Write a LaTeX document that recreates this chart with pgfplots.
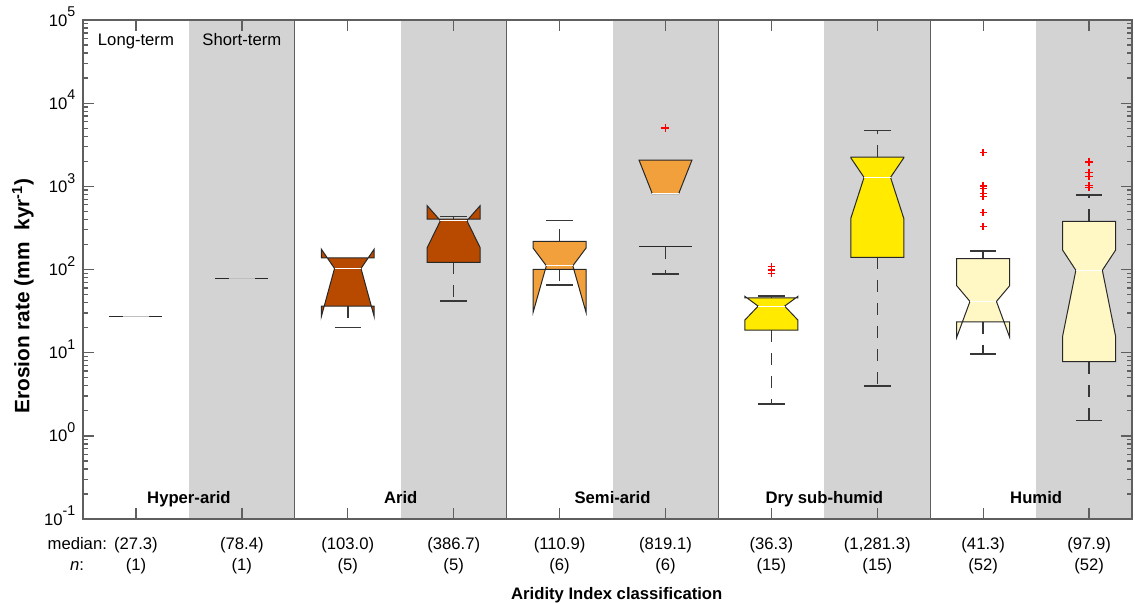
\documentclass[border=0pt]{standalone}
\usepackage{fontspec}
\setmainfont{Liberation Sans}
\usepackage{pgfplots}
\pgfplotsset{compat=1.18}
\definecolor{bggray}{RGB}{211,211,211}
\definecolor{arid}{RGB}{184,74,0}
\definecolor{semi}{RGB}{242,160,60}
\definecolor{dry}{RGB}{255,234,0}
\definecolor{humid}{RGB}{255,247,196}
\definecolor{axgray}{RGB}{95,95,95}
\definecolor{boxedge}{RGB}{40,40,40}
\definecolor{whisk}{RGB}{55,55,55}
\definecolor{outred}{RGB}{255,0,0}
\newcommand{\tl}[1]{10\raisebox{5.6pt}{\fontsize{8.5}{8.5}\selectfont #1}}
\pgfplotsset{
  bx/.style={draw=boxedge, line width=0.6pt},
  wh/.style={whisk, line width=0.9pt, dash pattern=on 7.2pt off 6.6pt},
  cap/.style={whisk, line width=0.9pt},
  med/.style={white, line width=0.7pt},
  outl/.style={outred, only marks, mark=+, mark size=2.2pt, mark options={solid, draw=outred, line width=0.85pt}},
}
\begin{document}
\begin{tikzpicture}[font=\fontsize{10}{12}\selectfont]
\begin{axis}[
  scale only axis, width=629.4pt, height=299.4pt,
  xmin=0.5, xmax=10.405, ymode=log, ymin=0.1, ymax=1e5,
  xtick={1,...,10}, xticklabels={},
  ytick={0.1,1,10,100,1000,10000,100000},
  yticklabels={\tl{-1},\tl{0},\tl{1},\tl{2},\tl{3},\tl{4},\tl{5}},
  minor ytick={0.2,0.3,0.4,0.5,0.6,0.7,0.8,0.9,2,3,4,5,6,7,8,9,20,30,40,50,60,70,80,90,200,300,400,500,600,700,800,900,2000,3000,4000,5000,6000,7000,8000,9000,20000,30000,40000,50000,60000,70000,80000,90000},
  tick align=inside, xtick pos=both, ytick pos=both,
  major tick length=6.6pt, minor tick length=3pt,
  axis line style={axgray, line width=0.8pt},
  every tick/.style={axgray, line width=0.8pt},
  yticklabel style={anchor=base east, yshift=-3.6pt, xshift=-1.1pt},
  axis on top, clip=false,
]
% background columns
\addplot[fill=bggray, draw=none] coordinates {(1.5,0.1) (2.5,0.1) (2.5,1e5) (1.5,1e5)} -- cycle;
\addplot[fill=bggray, draw=none] coordinates {(3.5,0.1) (4.5,0.1) (4.5,1e5) (3.5,1e5)} -- cycle;
\addplot[fill=bggray, draw=none] coordinates {(5.5,0.1) (6.5,0.1) (6.5,1e5) (5.5,1e5)} -- cycle;
\addplot[fill=bggray, draw=none] coordinates {(7.5,0.1) (8.5,0.1) (8.5,1e5) (7.5,1e5)} -- cycle;
\addplot[fill=bggray, draw=none] coordinates {(9.5,0.1) (10.405,0.1) (10.405,1e5) (9.5,1e5)} -- cycle;
% separators
\addplot[axgray, line width=0.8pt] coordinates {(2.5,0.1) (2.5,1e5)};
\addplot[axgray, line width=0.8pt] coordinates {(4.5,0.1) (4.5,1e5)};
\addplot[axgray, line width=0.8pt] coordinates {(6.5,0.1) (6.5,1e5)};
\addplot[axgray, line width=0.8pt] coordinates {(8.5,0.1) (8.5,1e5)};

% Box 1, 2: single values
\addplot[boxedge, line width=0.8pt] coordinates {(0.75,27.3) (1.25,27.3)};
\addplot[black!25, line width=0.6pt] coordinates {(0.875,27.3) (1.125,27.3)};
\addplot[boxedge, line width=0.8pt] coordinates {(1.75,78.4) (2.25,78.4)};
\addplot[black!25, line width=0.6pt] coordinates {(1.875,78.4) (2.125,78.4)};

% Box 3: Arid long-term
\addplot[wh] coordinates {(3,36.4) (3,20)};
\addplot[cap] coordinates {(2.875,20) (3.125,20)};
\addplot[bx, fill=arid] coordinates {(2.75,36.4) (2.75,27) (2.875,103.0) (2.75,176) (2.75,138) (3.25,138) (3.25,176) (3.125,103.0) (3.25,27) (3.25,36.4)} -- cycle;
\addplot[med] coordinates {(2.875,103.0) (3.125,103.0)};

% Box 4: Arid short-term
\addplot[wh] coordinates {(4,404) (4,431)};
\addplot[cap] coordinates {(3.875,431) (4.125,431)};
\addplot[wh] coordinates {(4,122) (4,41.8)};
\addplot[cap] coordinates {(3.875,41.8) (4.125,41.8)};
\addplot[bx, fill=arid] coordinates {(3.75,122) (3.75,183) (3.875,386.7) (3.75,585) (3.75,404) (4.25,404) (4.25,585) (4.125,386.7) (4.25,183) (4.25,122)} -- cycle;
\addplot[med] coordinates {(3.875,386.7) (4.125,386.7)};

% Box 5: Semi-arid long-term
\addplot[wh] coordinates {(5,218) (5,390)};
\addplot[cap] coordinates {(4.875,390) (5.125,390)};
\addplot[wh] coordinates {(5,100.5) (5,65)};
\addplot[cap] coordinates {(4.875,65) (5.125,65)};
\addplot[bx, fill=semi] coordinates {(4.75,100.5) (4.75,30.5) (4.875,110.9) (4.75,181) (4.75,218) (5.25,218) (5.25,181) (5.125,110.9) (5.25,30.5) (5.25,100.5)} -- cycle;
\addplot[med] coordinates {(4.875,110.9) (5.125,110.9)};

% Box 6: Semi-arid short-term
\addplot[wh] coordinates {(6,188) (6,88)};
\addplot[cap] coordinates {(5.875,88) (6.125,88)};
\addplot[bx] coordinates {(5.75,188) (6.25,188)};
\addplot[bx, fill=semi] coordinates {(5.75,2070) (6.25,2070) (6.125,819.1) (5.875,819.1)} -- cycle;
\addplot[med] coordinates {(5.875,819.1) (6.125,819.1)};

% Box 7: Dry sub-humid long-term
\addplot[wh] coordinates {(7,45.5) (7,48.3)};
\addplot[cap] coordinates {(6.875,48.3) (7.125,48.3)};
\addplot[wh] coordinates {(7,18.7) (7,2.43)};
\addplot[cap] coordinates {(6.875,2.43) (7.125,2.43)};
\addplot[bx, fill=dry] coordinates {(6.75,18.7) (6.75,24.7) (6.875,36.3) (6.75,47.5) (6.75,45.5) (7.25,45.5) (7.25,47.5) (7.125,36.3) (7.25,24.7) (7.25,18.7)} -- cycle;
\addplot[med] coordinates {(6.875,36.3) (7.125,36.3)};

% Box 8: Dry sub-humid short-term
\addplot[wh] coordinates {(8,2250) (8,4660)};
\addplot[cap] coordinates {(7.875,4660) (8.125,4660)};
\addplot[wh] coordinates {(8,140) (8,3.97)};
\addplot[cap] coordinates {(7.875,3.97) (8.125,3.97)};
\addplot[bx, fill=dry] coordinates {(7.75,140) (7.75,412) (7.875,1281.3) (7.75,2200) (7.75,2250) (8.25,2250) (8.25,2200) (8.125,1281.3) (8.25,412) (8.25,140)} -- cycle;
\addplot[med] coordinates {(7.875,1281.3) (8.125,1281.3)};

% Box 9: Humid long-term
\addplot[wh] coordinates {(9,135) (9,168)};
\addplot[cap] coordinates {(8.875,168) (9.125,168)};
\addplot[wh] coordinates {(9,23.5) (9,9.6)};
\addplot[cap] coordinates {(8.875,9.6) (9.125,9.6)};
\addplot[bx, fill=humid] coordinates {(8.75,23.5) (8.75,15.3) (8.875,41.3) (8.75,63.8) (8.75,135) (9.25,135) (9.25,63.8) (9.125,41.3) (9.25,15.3) (9.25,23.5)} -- cycle;
\addplot[med] coordinates {(8.875,41.3) (9.125,41.3)};

% Box 10: Humid short-term
\addplot[wh] coordinates {(10,379) (10,785)};
\addplot[cap] coordinates {(9.875,785) (10.125,785)};
\addplot[wh] coordinates {(10,7.78) (10,1.52)};
\addplot[cap] coordinates {(9.875,1.52) (10.125,1.52)};
\addplot[bx, fill=humid] coordinates {(9.75,7.78) (9.75,15.8) (9.875,97.9) (9.75,171) (9.75,379) (10.25,379) (10.25,171) (10.125,97.9) (10.25,15.8) (10.25,7.78)} -- cycle;
\addplot[med] coordinates {(9.875,97.9) (10.125,97.9)};

% outliers (all boxes)
\addplot[outl] coordinates {
  (7,108) (7,98.6) (7,89)
  (9,2564) (9,1008) (9,946) (9,824) (9,750) (9,482) (9,330)
  (10,1960) (10,1473) (10,1318) (10,1016) (10,972)
};
\addplot[red, only marks, mark=+, mark size=2.4pt, mark options={solid, draw=red, line width=1pt}] coordinates {(6,5060)};

% text inside axis
\node[anchor=base, yshift=-15.4pt] at (axis cs:1,1e5) {Long-term};
\node[anchor=base, yshift=-15.4pt] at (axis cs:2,1e5) {Short-term};
\node[anchor=base, yshift=9.6pt, font=\fontsize{10}{12}\selectfont\bfseries] at (axis cs:1.5,0.1) {Hyper-arid};
\node[anchor=base, yshift=9.6pt, font=\fontsize{10}{12}\selectfont\bfseries] at (axis cs:3.5,0.1) {Arid};
\node[anchor=base, yshift=9.6pt, font=\fontsize{10}{12}\selectfont\bfseries] at (axis cs:5.5,0.1) {Semi-arid};
\node[anchor=base, yshift=9.6pt, font=\fontsize{10}{12}\selectfont\bfseries] at (axis cs:7.5,0.1) {Dry sub-humid};
\node[anchor=base, yshift=9.6pt, font=\fontsize{10}{12}\selectfont\bfseries] at (axis cs:9.5,0.1) {Humid};
% rows below axis
\node[anchor=base east, yshift=-18.2pt, inner xsep=0pt] at (axis cs:0.729,0.1) {median:};
\node[anchor=base east, yshift=-31pt, inner xsep=0pt] at (axis cs:0.512,0.1) {\textit{n}:};
\node[anchor=base, yshift=-18.2pt] at (axis cs:1,0.1) {(27.3)};
\node[anchor=base, yshift=-18.2pt] at (axis cs:2,0.1) {(78.4)};
\node[anchor=base, yshift=-18.2pt] at (axis cs:3,0.1) {(103.0)};
\node[anchor=base, yshift=-18.2pt] at (axis cs:4,0.1) {(386.7)};
\node[anchor=base, yshift=-18.2pt] at (axis cs:5,0.1) {(110.9)};
\node[anchor=base, yshift=-18.2pt] at (axis cs:6,0.1) {(819.1)};
\node[anchor=base, yshift=-18.2pt] at (axis cs:7,0.1) {(36.3)};
\node[anchor=base, yshift=-18.2pt] at (axis cs:8,0.1) {(1,281.3)};
\node[anchor=base, yshift=-18.2pt] at (axis cs:9,0.1) {(41.3)};
\node[anchor=base, yshift=-18.2pt] at (axis cs:10,0.1) {(97.9)};
\node[anchor=base, yshift=-31pt] at (axis cs:1,0.1) {(1)};
\node[anchor=base, yshift=-31pt] at (axis cs:2,0.1) {(1)};
\node[anchor=base, yshift=-31pt] at (axis cs:3,0.1) {(5)};
\node[anchor=base, yshift=-31pt] at (axis cs:4,0.1) {(5)};
\node[anchor=base, yshift=-31pt] at (axis cs:5,0.1) {(6)};
\node[anchor=base, yshift=-31pt] at (axis cs:6,0.1) {(6)};
\node[anchor=base, yshift=-31pt] at (axis cs:7,0.1) {(15)};
\node[anchor=base, yshift=-31pt] at (axis cs:8,0.1) {(15)};
\node[anchor=base, yshift=-31pt] at (axis cs:9,0.1) {(52)};
\node[anchor=base, yshift=-31pt] at (axis cs:10,0.1) {(52)};
\node[anchor=base, yshift=-48.2pt, font=\fontsize{10}{12}\selectfont\bfseries] at (axis cs:5.54,0.1) {Aridity Index classification};
\end{axis}
\path (current axis.south west) ++(-36pt,133.8pt) node[rotate=90, font=\fontsize{12.5}{15}\selectfont\bfseries] {Erosion rate (mm\ \ kyr\textsuperscript{-1})};
\path (current axis.south west) ++(-49.8pt,-50.4pt) coordinate (bl);
\path (current axis.north east) ++(1.8pt,12pt) coordinate (tr);
\pgfresetboundingbox
\path (bl) rectangle (tr);
\end{tikzpicture}
\end{document}
